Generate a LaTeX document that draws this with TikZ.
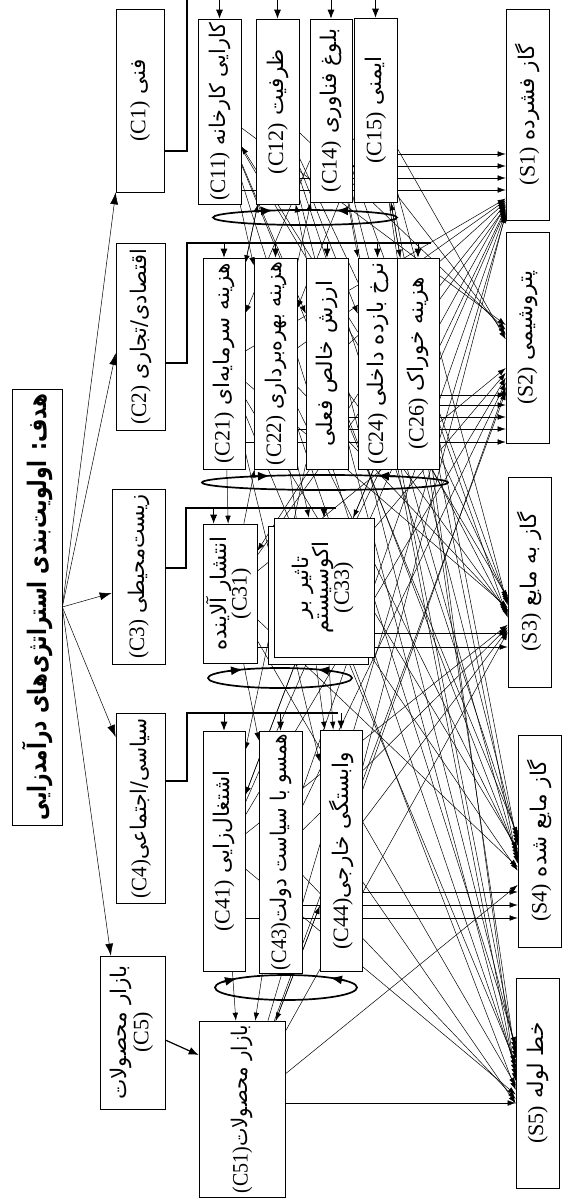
\documentclass[tikz,border=0pt]{standalone}
\usepackage{fontspec}
\usepackage{graphicx}
\setmainfont{Liberation Serif}
\newfontfamily\fa[Script=Arabic,Scale=0.98]{DejaVu Sans}
\TeXXeTstate=1
\usetikzlibrary{arrows.meta,backgrounds,calc}
\newsavebox\fitsave
\newcommand\fitto[2]{\sbox\fitsave{#2}\ifdim\wd\fitsave>#1\relax\resizebox{#1}{\ht\fitsave}{\usebox\fitsave}\else\usebox\fitsave\fi}
\newcommand\lab[2]{\rotatebox{90}{\fitto{#1}{#2}}}
\newcommand\lt[1]{\beginL{\rmfamily #1}\endL}
\newcommand\fat[2]{{\fa\beginR #1 \lt{#2}\endR}}
\newcommand\fao[1]{{\fa\beginR #1\endR}}
\begin{document}
\begin{tikzpicture}[x=1pt,y=-1pt,
  box/.style={draw, line width=0.6pt, fill=white, inner sep=0pt, font=\fontsize{22}{24}\selectfont},
  conn/.style={line width=0.5pt, -{Latex[length=8pt,width=5.5pt]}},
  busline/.style={line width=1.7pt},
  busarrow/.style={line width=0.8pt, -{Latex[length=9pt,width=7pt]}},
  goalarrow/.style={line width=0.5pt, -{Latex[length=12pt,width=8pt]}},
  loopline/.style={line width=1.7pt},
  looparrow/.style={line width=1.7pt, -{Latex[length=12pt,width=9pt]}}]
\useasboundingbox (0,0) rectangle (563,1204);

% goal
\node[box, minimum width=50, minimum height=436] (goal) at (37,607)
  {\lab{426pt}{\fontsize{26}{28}\selectfont\fa\bfseries\beginR هدف: اولویت^^^^200cبندی استراتژی^^^^200cهای درآمدزایی\endR}};

% criteria
\node[box, minimum width=48, minimum height=183] (C1) at (140,100.5) {\lab{120pt}{\fat{فنی}{(C1)}}};
\node[box, minimum width=49, minimum height=187] (C2) at (140.5,336.5) {\lab{176pt}{\fat{اقتصادی/تجاری}{(C2)}}};
\node[box, minimum width=53, minimum height=175] (C3) at (138.5,576.5) {\lab{164pt}{\fat{زیست^^^^200cمحیطی}{(C3)}}};
\node[box, minimum width=49, minimum height=190] (C4) at (140.5,808) {\lab{180pt}{\fa\beginR سیاسی/اجتماعی\lt{(C4)}\endR}};
\node[box, minimum width=65, minimum height=153] (C5) at (132.5,1032.5)
  {\lab{140pt}{\begin{tabular}{@{}c@{}}\fao{بازار محصولات}\\[-2pt] (C5)\end{tabular}}};

% sub-criteria C1
\node[box, minimum width=43, minimum height=185] (C11) at (219.5,111.5) {\lab{178pt}{\fat{کارایی کارخانه}{(C11)}}};
\node[box, minimum width=43, minimum height=185] (C12) at (277.5,111.5) {\lab{178pt}{\fat{ظرفیت}{(C12)}}};
\node[box, minimum width=42, minimum height=183] (C14) at (331,110.5) {\lab{176pt}{\fat{بلوغ فناوری}{(C14)}}};
\node[box, minimum width=43, minimum height=184] (C15) at (375.5,110) {\lab{176pt}{\fat{ایمنی}{(C15)}}};

% sub-criteria C2
\node[box, minimum width=42, minimum height=211] (C21) at (224,363.5) {\lab{203pt}{\fat{هزینه سرمایه^^^^200cای}{(C21)}}};
\node[box, minimum width=43, minimum height=211] (C22) at (275.5,363.5) {\lab{203pt}{\fat{هزینه بهره^^^^200cبرداری}{(C22)}}};
\node[box, minimum width=42, minimum height=211] (C23) at (327,363.5) {\lab{203pt}{\fao{ارزش خالص فعلی}}};
\node[box, minimum width=39, minimum height=211] (C24) at (377.5,363.5) {\lab{203pt}{\fat{نرخ بازده داخلی}{(C24)}}};
\node[box, minimum width=42, minimum height=211] (C26) at (418,363.5) {\lab{203pt}{\fat{هزینه خوراک}{(C26)}}};

% sub-criteria C3
\node[box, minimum width=54, minimum height=139] (C31) at (230,593.5)
  {\lab{132pt}{\begin{tabular}{@{}c@{}}\fao{انتشار آلاینده}\\[-4pt] (C31)\end{tabular}}};
\node[box, minimum width=100, minimum height=138] (C33b) at (318,595) {};
\node[box, minimum width=100, minimum height=139] (C33) at (324,587.5)
  {\lab{132pt}{\begin{tabular}{@{}c@{}}\fao{تاثیر بر}\\[-4pt] \fao{اکوسیستم}\\[-4pt] (C33)\end{tabular}}};

% sub-criteria C4
\node[box, minimum width=42, minimum height=240] (C41) at (224,851) {\lab{232pt}{\fa\beginR اشتغال^^^^200cزایی \lt{(C41)}\endR}};
\node[box, minimum width=43, minimum height=242] (C43) at (280.5,852) {\lab{236pt}{\fa\beginR همسو با سیاست دولت\lt{(C43)}\endR}};
\node[box, minimum width=42, minimum height=241] (C44) at (341,850.5) {\lab{234pt}{\fa\beginR وابستگی خارجی\lt{(C44)}\endR}};

% sub-criterion C5
\node[box, minimum width=86, minimum height=176] (C51) at (242,1109) {\lab{168pt}{\fa\beginR بازار محصولات\lt{(C51)}\endR}};

% alternatives
\node[box, minimum width=43, minimum height=211] (S1) at (527.5,114.5) {\lab{190pt}{\fat{گاز فشرده}{(S1)}}};
\node[box, minimum width=43, minimum height=211] (S2) at (527.5,337.5) {\lab{190pt}{\fat{پتروشیمی}{(S2)}}};
\node[box, minimum width=43, minimum height=210] (S3) at (529.5,582) {\lab{190pt}{\fat{گاز به مایع}{(S3)}}};
\node[box, minimum width=43, minimum height=212] (S4) at (539.5,841) {\lab{190pt}{\fat{گاز مایع شده}{(S4)}}};
\node[box, minimum width=43, minimum height=210] (S5) at (537.5,1083) {\lab{190pt}{\fat{خط لوله}{(S5)}}};

\begin{pgfonlayer}{background}
% goal arrows
\draw[goalarrow] (goal.east) -- (C1.south west);
\draw[goalarrow] (goal.east) -- (C2.west |- 0,353);
\draw[goalarrow] (goal.east) -- (C3.west |- 0,593);
\draw[goalarrow] (goal.east) -- (C4.west |- 0,737);
\draw[goalarrow] (goal.east) -- ($(C5.north west)!0.17!(C5.north east)$);

% buses
\coordinate (b1) at (187,151); \coordinate (t1) at (187,-3); \coordinate (t1e) at (400,-3);
\draw[busline] (C1.east |- b1) -- (b1) -- (t1) -- (t1e);
\foreach \n in {C11,C12,C14,C15} \draw[busarrow] (\n.north |- t1) -- (\n.north);

\coordinate (b2) at (187,363); \coordinate (t2) at (187,243); \coordinate (t2e) at (431,243);
\draw[busline] (C2.east |- b2) -- (b2) -- (t2) -- (t2e);
\foreach \n in {C21,C22,C23,C24,C26} \draw[busarrow] (\n.north |- t2) -- (\n.north);

\coordinate (b3) at (186,568); \coordinate (t3) at (186,508); \coordinate (t3e) at (336,508);
\draw[busline] (C3.east |- b3) -- (b3) -- (t3) -- (t3e);
\coordinate (c31in) at ($(C31.north west)!0.2!(C31.north east)$);
\draw[busarrow] (c31in |- t3) -- (c31in);
\draw[busarrow] (C33.north |- t3) -- (C33.north);

\coordinate (b4) at (187,781); \coordinate (t4) at (187,713); \coordinate (t4e) at (338,713);
\draw[busline] (C4.east |- b4) -- (b4) -- (t4) -- (t4e);
\foreach \n in {C41,C43,C44} \draw[busarrow] (\n.north |- t4) -- (\n.north);

\draw[line width=1.2pt, -{Latex[length=10pt,width=8pt]}] (C5.east |- 0,1040) -- (C51.west |- 0,1055);

% horizontal arrows to own alternative
\foreach \n/\y in {C11/190,C12/178,C14/166,C15/154} \draw[conn] (\n.east |- 0,\y) -- (S1.west |- 0,\y);
\foreach \n/\y in {C21/442,C22/429,C23/417,C24/405,C26/395} \draw[conn] (\n.east |- 0,\y) -- (S2.west |- 0,\y);
\foreach \n/\y in {C31/647,C33/633} \draw[conn] (\n.east |- 0,\y) -- (S3.west |- 0,\y);
\foreach \n/\y in {C41/918,C43/905,C44/892} \draw[conn] (\n.east |- 0,\y) -- (S4.west |- 0,\y);
\draw[conn] (C51.east |- 0,1103) -- (S5.west |- 0,1103);

% diagonal arrows to the other alternatives
\foreach \s/\i in {C11/0,C12/1,C14/2,C15/3}
  \foreach \t/\ya/\yb in {S2/325/392,S3/598/632,S4/835/885,S5/1045/1108}
    {\pgfmathsetmacro\ty{\ya+(\yb-\ya)*\i/14}\draw[conn] (\s) -- (\t.west |- 0,\ty);}
\foreach \s/\i in {C21/4,C22/5,C23/6,C24/7,C26/8}
  \foreach \t/\ya/\yb in {S1/192/215,S3/598/632,S4/835/885,S5/1045/1108}
    {\pgfmathsetmacro\ty{\ya+(\yb-\ya)*\i/14}\draw[conn] (\s) -- (\t.west |- 0,\ty);}
\foreach \s/\i in {C31/9,C33/10}
  \foreach \t/\ya/\yb in {S1/192/215,S2/325/392,S4/835/885,S5/1045/1108}
    {\pgfmathsetmacro\ty{\ya+(\yb-\ya)*\i/14}\draw[conn] (\s) -- (\t.west |- 0,\ty);}
\foreach \s/\i in {C41/11,C43/12,C44/13}
  \foreach \t/\ya/\yb in {S1/192/215,S2/325/392,S3/598/632,S5/1045/1108}
    {\pgfmathsetmacro\ty{\ya+(\yb-\ya)*\i/14}\draw[conn] (\s) -- (\t.west |- 0,\ty);}
\foreach \t/\ty in {S1/215,S2/392,S3/632,S4/885}
    {\draw[conn] (C51) -- (\t.west |- 0,\ty);}

% interdependencies between clusters
\foreach \a/\b in {C11/C22,C12/C21,C14/C21,C15/C22,C11/C23,C12/C24,C21/C12,C23/C12,C22/C14,C24/C11,C26/C15,C14/C24,C15/C26,
  C21/C31,C22/C33,C24/C31,C26/C33,C31/C22,C33/C26,C23/C41,
  C31/C43,C33/C41,C33/C44,C41/C33,C22/C44,C21/C44,
  C41/C51,C43/C51,C44/C51,C51/C44}
  \draw[conn] (\a) -- (\b);

% inner-dependency loops
\draw[loopline] (305,217.5) ellipse [x radius=92, y radius=7.5];
\draw[looparrow] (258,211.05) -- (273,210.5);
\draw[looparrow] (351,211.0) -- (336,210.4);
\draw[loopline] (325,482.5) ellipse [x radius=123, y radius=7.5];
\draw[looparrow] (250,476.56) -- (270,475.8);
\draw[looparrow] (397,476.4) -- (377,475.7);
\draw[loopline] (280,678) ellipse [x radius=72, y radius=10];
\draw[looparrow] (228,671.1) -- (243,669.4);
\draw[looparrow] (332,671.1) -- (317,669.4);
\draw[loopline] (286,987.5) ellipse [x radius=71, y radius=12.5];
\draw[looparrow] (222,982.1) -- (237,978.5);
\draw[looparrow] (345,980.5) -- (330,977.7);
\end{pgfonlayer}
\end{tikzpicture}
\end{document}
